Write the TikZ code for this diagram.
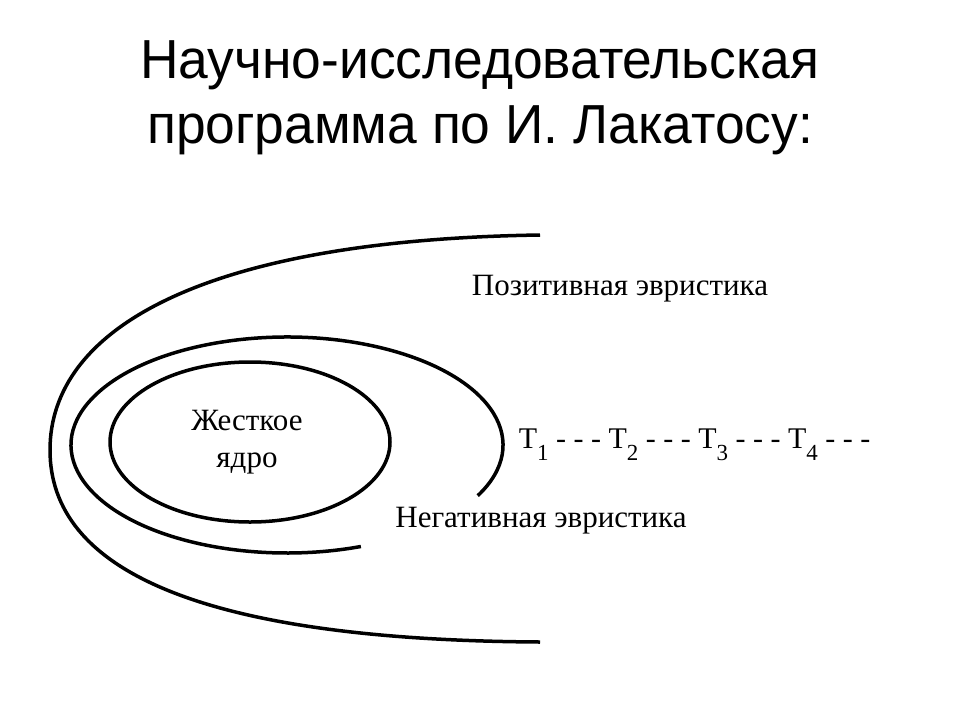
\documentclass[tikz,border=0pt]{standalone}
\usepackage{fontspec}
\setmainfont{Liberation Serif}
\newfontfamily\titlefont[FakeStretch=0.97]{Liberation Sans}
\newcommand{\tidx}[1]{\raisebox{-12pt}{\fontsize{23}{23}\selectfont #1}}
\tikzset{
  heading/.style={font=\titlefont\fontsize{55}{55}\selectfont,anchor=base},
  label/.style={font=\fontsize{31}{37}\selectfont,inner sep=0pt},
}
\begin{document}
\begin{tikzpicture}[x=1pt,y=-1pt,line width=3.5pt]
  \useasboundingbox (0,0) rectangle (960,720);
  \node[heading] (title1) at (480,78) {Научно-исследовательская};
  \node[heading] (title2) at (480,143) {программа по И. Лакатосу:};
  \draw (250,442) ellipse [x radius=140, y radius=80];
  \draw ([shift={(28:216 and 108)}]287,445) arc [start angle=28, end angle=-290, x radius=216, y radius=108];
  \draw (540,235) .. controls (200,240) and (50,330) .. (50,450)
    .. controls (50,570) and (200,640) .. (540,642);
  \node[label,align=center] (core) at (247,442) {Жесткое\\ядро};
  \node[label,anchor=base] (positive) at (620,295) {Позитивная эвристика};
  \node[label,anchor=base] (negative) at (541,527) {Негативная эвристика};
  \node[label,font=\fontsize{30}{36}\selectfont,anchor=base west] (theories) at (517,448)
    {Т\tidx{1} - - - Т\tidx{2} - - - Т\tidx{3} - - - Т\tidx{4} - - -};
\end{tikzpicture}
\end{document}
